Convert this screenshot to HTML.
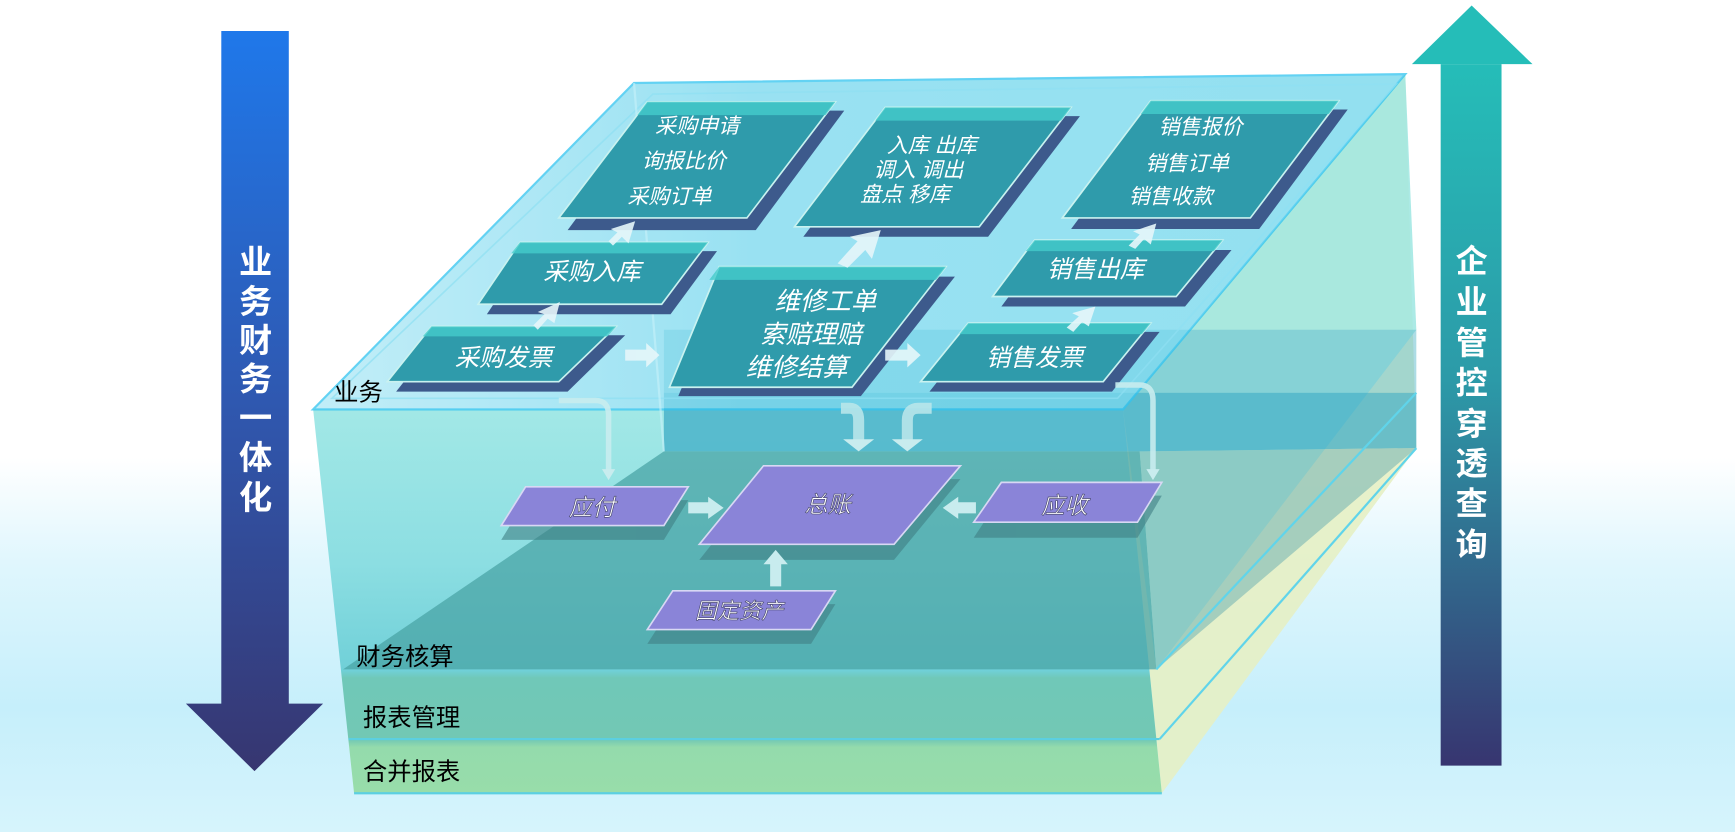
<!DOCTYPE html>
<html><head><meta charset="utf-8"><style>
html,body{margin:0;padding:0;width:1735px;height:832px;overflow:hidden;background:#fff}
svg{display:block}
text{font-family:"Liberation Sans","Noto Sans CJK SC",sans-serif}
.w{fill:#fff;font-style:italic}
</style></head><body>
<svg width="1735" height="832" viewBox="0 0 1568 752" preserveAspectRatio="none" xmlns="http://www.w3.org/2000/svg">
<defs>
<linearGradient id="bg" x1="0" y1="0" x2="0" y2="1">
<stop offset="0" stop-color="#fff"/><stop offset="0.55" stop-color="#fff"/><stop offset="0.68" stop-color="#dff6fd"/><stop offset="0.85" stop-color="#c6effb"/><stop offset="1" stop-color="#d6f4fc"/></linearGradient>
<linearGradient id="la" x1="0" y1="0" x2="0" y2="1"><stop offset="0" stop-color="#1f78ea"/><stop offset="0.5" stop-color="#2f58b0"/><stop offset="1" stop-color="#373670"/></linearGradient>
<linearGradient id="ra" x1="0" y1="0" x2="0" y2="1"><stop offset="0" stop-color="#25bdb8"/><stop offset="0.45" stop-color="#2c9aa8"/><stop offset="1" stop-color="#373570"/></linearGradient>
<linearGradient id="front" x1="0" y1="0" x2="0" y2="1">
<stop offset="0" stop-color="#a2e8e6"/><stop offset="0.4" stop-color="#8cdee2"/><stop offset="0.68" stop-color="#70d0d8"/><stop offset="0.7" stop-color="#70c8b8"/><stop offset="0.86" stop-color="#72c8b4"/><stop offset="0.88" stop-color="#94dbac"/><stop offset="1" stop-color="#98ddaa"/></linearGradient>
<linearGradient id="top" x1="0" y1="0" x2="1" y2="0"><stop offset="0" stop-color="#aee8f6"/><stop offset="0.4" stop-color="#78d8ee"/><stop offset="1" stop-color="#6fd6ec"/></linearGradient>
</defs>
<rect width="1568" height="752" fill="url(#bg)"/>
<!-- left arrow -->
<polygon points="200,28 261,28 261,636 292,636 230,697 168,636 200,636" fill="url(#la)"/>
<g fill="#fff" font-size="30" font-weight="bold" text-anchor="middle">
<text x="231" y="247">业</text><text x="231" y="283">务</text><text x="231" y="318">财</text><text x="231" y="353">务</text><text x="231" y="388">一</text><text x="231" y="424">体</text><text x="231" y="460">化</text></g>
<!-- right arrow -->
<polygon points="1302,58 1357,58 1357,692 1302,692" fill="url(#ra)"/>
<polygon points="1276,58 1330,5 1385,58" fill="#25bdb8"/>
<g fill="#fff" font-size="29" font-weight="bold" text-anchor="middle">
<text x="1330" y="246">企</text><text x="1330" y="283">业</text><text x="1330" y="320">管</text><text x="1330" y="356">控</text><text x="1330" y="393">穿</text><text x="1330" y="429">透</text><text x="1330" y="465">查</text><text x="1330" y="502">询</text></g>
<!-- box -->
<polygon points="1015,370 1270,67 1280,405 1050,717" fill="#e6f0c4" opacity="0.9"/>
<polygon points="1015,370 1270,67 1280,298 1045,605" fill="#9ee6e2" opacity="0.85"/>
<polygon points="283,370 1015,370 1050,717 320,717" fill="url(#front)"/>
<!-- interior bands -->
<polygon points="600,298 1280,298 1280,355 600,355" fill="#6ac0d0" opacity="0.55"/>
<polygon points="600,355 1280,355 1280,405 1030,408 600,408" fill="#40acc6" opacity="0.75"/>
<polygon points="600,408 1030,408 1045,605 310,605" fill="#4aa4a6" opacity="0.75"/>
<polygon points="1030,408 1280,405 1045,605" fill="#7ab8b4" opacity="0.6"/>
<line x1="315" y1="668" x2="1048" y2="668" stroke="#5ccfe0" stroke-width="2"/>
<line x1="320" y1="717" x2="1050" y2="717" stroke="#5ccfe0" stroke-width="2"/>
<line x1="1045" y1="605" x2="1280" y2="355" stroke="#60d4ea" stroke-width="2"/>
<line x1="1048" y1="668" x2="1280" y2="405" stroke="#60d4ea" stroke-width="2"/>
<polygon points="573,75 1270,67 1015,370 283,370" fill="url(#top)" opacity="0.75" stroke="#30c4f0" stroke-width="2"/>
<polygon points="590,85 1262,76 1010,360 300,360" fill="none" stroke="#8fe0f2" stroke-width="1.5" opacity="0.7"/>
<line x1="573" y1="75" x2="600" y2="408" stroke="#c8f2fa" stroke-width="2" opacity="0.6"/>
<!-- teal nodes -->
<g stroke="#c9f2f0" stroke-width="1.5">
<polygon points="593,100 763,100 683,208 513,208" fill="#3d5a8c" stroke="none"/>
<polygon points="585,92 755,92 675,197 505,197" fill="#2f9bab"/>
<polygon points="808,105 976,105 893,214 726,214" fill="#3d5a8c" stroke="none"/>
<polygon points="800,97 968,97 885,205 718,205" fill="#2f9bab"/>
<polygon points="1048,99 1218,99 1138,207 968,207" fill="#3d5a8c" stroke="none"/>
<polygon points="1040,91 1210,91 1130,197 960,197" fill="#2f9bab"/>
<polygon points="478,227 648,227 606,284 440,284" fill="#3d5a8c" stroke="none"/>
<polygon points="470,219 640,219 598,275 432,275" fill="#2f9bab"/>
<polygon points="658,250 863,250 778,358 613,358" fill="#3d5a8c" stroke="none"/>
<polygon points="650,241 855,241 770,350 605,350" fill="#2f9bab"/>
<polygon points="943,226 1113,226 1071,277 905,277" fill="#3d5a8c" stroke="none"/>
<polygon points="935,217 1105,217 1063,268 897,268" fill="#2f9bab"/>
<polygon points="398,303 565,303 513,354 358,354" fill="#3d5a8c" stroke="none"/>
<polygon points="390,295 557,295 505,345 350,345" fill="#2f9bab"/>
<polygon points="883,300 1048,300 1005,354 840,354" fill="#3d5a8c" stroke="none"/>
<polygon points="875,292 1040,292 997,345 832,345" fill="#2f9bab"/>
</g>
<g fill="#45cccc" opacity="0.8">
<polygon points="585,92 755,92 746,104 576,104"/><polygon points="800,97 968,97 959,109 791,109"/>
<polygon points="1040,91 1210,91 1201,103 1031,103"/><polygon points="470,219 640,219 632,229 462,229"/>
<polygon points="650,241 855,241 846,253 641,253"/><polygon points="935,217 1105,217 1097,227 927,227"/>
<polygon points="390,295 557,295 549,304 382,304"/><polygon points="875,292 1040,292 1032,302 867,302"/>
</g>
<g class="w" text-anchor="middle" font-size="19">
<text x="630" y="120">采购申请</text><text x="618" y="152">询报比价</text><text x="605" y="184">采购订单</text>
<text x="842" y="138">入库 出库</text><text x="830" y="160">调入 调出</text><text x="818" y="182">盘点 移库</text>
<text x="1085" y="121">销售报价</text><text x="1073" y="154">销售订单</text><text x="1058" y="184">销售收款</text>
</g>
<g class="w" text-anchor="middle" font-size="22">
<text x="535" y="253">采购入库</text><text x="990" y="251">销售出库</text>
<text x="455" y="331">采购发票</text><text x="935" y="331">销售发票</text>
</g>
<g class="w" text-anchor="middle" font-size="23">
<text x="746" y="280">维修工单</text><text x="733" y="310">索赔理赔</text><text x="720" y="340">维修结算</text>
</g>
<!-- up arrows -->
<g fill="#e6f6fa" opacity="0.9">
<polygon points="550,218 558,210 552,207 574,200 568,220 562,214 554,222"/>
<polygon points="482,294 492,284 486,282 506,273 501,292 495,288 486,298"/>
<polygon points="757,238 775,218 768,214 796,208 788,234 782,226 766,242"/>
<polygon points="1020,222 1030,212 1024,209 1045,202 1040,221 1034,216 1026,225"/>
<polygon points="964,296 975,286 969,283 990,277 984,295 978,291 970,300"/>
<polygon points="565,316 584,316 584,310 596,321 584,332 584,326 565,326"/>
<polygon points="800,316 820,316 820,310 832,321 820,332 820,326 800,326"/>
</g>
<!-- curved connectors -->
<g fill="none" stroke="#c8ecee" stroke-width="5" opacity="0.9">
<path d="M505,362 H538 Q550,362 550,375 V425"/>
<path d="M1008,348 H1030 Q1042,348 1042,362 V425"/>
</g>
<g fill="none" stroke="#b8e6ea" stroke-width="10" opacity="0.9">
<path d="M760,369 H768 Q776,369 776,380 V398"/>
<path d="M842,369 H830 Q820,369 820,380 V398"/>
</g>
<g fill="#c8ecee">
<polygon points="544,424 556,424 550,434"/><polygon points="1036,424 1048,424 1042,434"/>
<polygon points="762,397 790,397 776,408"/><polygon points="806,397 834,397 820,408"/>
</g>
<!-- finance nodes -->
<g fill="#3f7f84" opacity="0.6">
<polygon points="475,452 622,452 600,488 453,488"/>
<polygon points="690,433 868,433 808,506 632,506"/>
<polygon points="905,448 1050,448 1028,486 880,486"/>
<polygon points="608,546 755,546 733,582 585,582"/>
</g>
<g fill="#8a84d8" stroke="#d8d8f4" stroke-width="1.5">
<polygon points="475,440 622,440 600,475 453,475"/>
<polygon points="690,421 868,421 808,492 632,492"/>
<polygon points="905,436 1050,436 1028,472 880,472"/>
<polygon points="608,534 755,534 733,569 585,569"/>
</g>
<g text-anchor="middle" font-size="21" font-style="italic" fill="#fff" stroke="#4a4a70" stroke-width="0.6">
<text x="535" y="466">应付</text><text x="748" y="463">总账</text><text x="962" y="464">应收</text><text x="668" y="559" font-size="20">固定资产</text>
</g>
<g fill="#c8ecee">
<polygon points="622,454 640,454 640,449 654,459 640,469 640,464 622,464"/>
<polygon points="882,454 866,454 866,449 852,459 866,469 866,464 882,464"/>
<polygon points="696,530 696,510 690,510 701,497 712,510 706,510 706,530"/>
</g>
<!-- labels -->
<g fill="#000" font-size="22">
<text x="302" y="362">业务</text>
<text x="322" y="601">财务核算</text>
<text x="328" y="656">报表管理</text>
<text x="328" y="705">合并报表</text>
</g>
</svg>
</body></html>
